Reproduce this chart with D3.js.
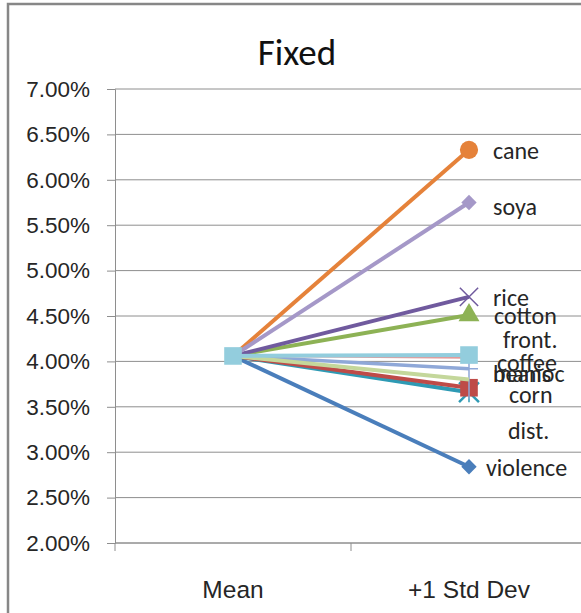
<!DOCTYPE html>
<html lang="en">
    <head>
        <meta charset="utf-8">
        <title>Fixed</title>
        <script src="https://d3js.org/d3.v7.min.js"></script>
        <style type="text/css">
            html, body {
                margin: 0;
                padding: 0;
                background-color: white;
            }
            svg {
                display: block;
                font-family: Calibri, Carlito, Lato, sans-serif;
                fill: #000;
            }
            .tick-label {
                font-size: 22.5px;
                fill: #262626;
            }
            .cat-label {
                font-size: 24.5px;
                fill: #262626;
            }
            .labels {
                font-size: 24px;
                fill: #262626;
            }
        </style>
    </head>
    <body>
        <script type="text/javascript">
            // data
            const categories = ["Mean", "+1 Std Dev"];
            const seriesNames = ["violence", "dist.", "corn", "cotton", "rice", "cane", "manioc", "front.", "beans", "soya", "coffee"];
            const meanValues = [4.06, 4.06, 4.06, 4.06, 4.06, 4.06, 4.06, 4.06, 4.06, 4.06, 4.06];
            const stdDevValues = [2.84, 3.66, 3.71, 4.51, 4.71, 6.33, 3.92, 4.04, 3.80, 5.75, 4.07];
            const labelValues = [2.83, 3.24, 3.63, 4.50, 4.70, 6.32, 3.87, 4.24, 3.87, 5.71, 3.99];
            const yTicks = [2, 2.5, 3, 3.5, 4, 4.5, 5, 5.5, 6, 6.5, 7];

            // styling per series
            const colors = ["#4A7EBB", "#2E9AB4", "#BE4B48", "#8DB255", "#705A9E", "#E5823A", "#8FA8D8", "#E49A98", "#C4D79B", "#A598C8", "#93CDDD"];
            const markers = ["diamond", "star", "square", "triangle", "x", "circle", "plus", "none", "none", "diamond", "square"];
            const lineWidths = [4, 4, 4, 4, 4, 4, 3.5, 2, 4, 4, 4];
            const labelDx = [17, 39, 40, 25, 24, 24, 24, 34, 24, 24, 28];

            const w = 581, h = 613;
            const svg = d3.select("body").append("svg")
                .attr("width", w)
                .attr("height", h);

            // outer frame (left + top edges visible)
            svg.append("path")
                .attr("d", "M8,613 V4 H581")
                .attr("fill", "none")
                .attr("stroke", "#878787")
                .attr("stroke-width", 2.5);

            const x = d3.scaleBand().domain(categories).range([115, 587]);
            const y = d3.scaleLinear().domain([2, 7]).range([543, 89]);
            const xc = c => x(c) + x.bandwidth() / 2;

            // gridlines
            svg.append("g").selectAll("line")
                .data(yTicks)
                .enter()
                .append("line")
                .attr("x1", 115).attr("x2", w)
                .attr("y1", d => y(d)).attr("y2", d => y(d))
                .attr("stroke", "#8e8e8e")
                .attr("stroke-width", 1);

            // y axis
            const yAxis = svg.append("g")
                .attr("transform", "translate(115,0)")
                .call(d3.axisLeft(y).tickValues(yTicks).tickSize(8).tickPadding(17)
                    .tickFormat(d => d.toFixed(2) + "%"));
            yAxis.select(".domain").attr("stroke", "#8e8e8e");
            yAxis.selectAll(".tick line").attr("stroke", "#8e8e8e");
            yAxis.selectAll(".tick text")
                .attr("class", "tick-label")
                .attr("font-family", null)
                .attr("font-size", null)
                .attr("fill", null);

            // x axis
            const xAxis = svg.append("g")
                .attr("transform", "translate(0," + y(2) + ")")
                .call(d3.axisBottom(x).tickSize(0).tickPadding(38));
            xAxis.select(".domain").attr("stroke", "#8e8e8e").attr("d", "M115,0H" + w);
            xAxis.selectAll(".tick text")
                .attr("class", "cat-label")
                .attr("font-family", null)
                .attr("font-size", null)
                .attr("fill", null);
            // category boundary ticks
            svg.append("g").selectAll("line")
                .data(categories)
                .enter()
                .append("line")
                .attr("x1", d => x(d)).attr("x2", d => x(d))
                .attr("y1", y(2)).attr("y2", y(2) + 8)
                .attr("stroke", "#8e8e8e");

            // build series
            const series = seriesNames.map((name, i) => ({
                name: name,
                values: [meanValues[i], stdDevValues[i]],
                color: colors[i],
                marker: markers[i],
                width: lineWidths[i],
                labelValue: labelValues[i],
                labelDx: labelDx[i]
            }));

            const line = d3.line()
                .x((d, i) => xc(categories[i]))
                .y(d => y(d));

            const markerPath = {
                diamond: d3.symbol().type(d3.symbolDiamond2).size(150),
                square: d3.symbol().type(d3.symbolSquare).size(310),
                triangle: d3.symbol().type(d3.symbolTriangle).size(190),
                circle: d3.symbol().type(d3.symbolCircle).size(260),
                star: d3.symbol().type(d3.symbolTimes).size(260),
                x: d3.symbol().type(d3.symbolTimes).size(220)
            };

            const groups = svg.selectAll("g.series")
                .data(series)
                .enter()
                .append("g")
                .attr("class", "series");

            groups.append("path")
                .attr("d", d => line(d.values))
                .attr("fill", "none")
                .attr("stroke", d => d.color)
                .attr("stroke-width", d => d.width);

            // markers; at the Mean all points coincide, only the top series (coffee) shows
            const last = series.length - 1;
            groups.each(function(s, si) {
                const g = d3.select(this);
                s.values.forEach((v, i) => {
                    if (i === 0 && si !== last) return;
                    const cx = xc(categories[i]), cy = y(v);
                    if (s.marker === "none") return;
                    if (s.marker === "plus") {
                        g.append("path")
                            .attr("d", "M" + (cx - 9) + "," + cy + "H" + (cx + 9) + "M" + cx + "," + (cy - 16) + "V" + (cy + 30))
                            .attr("stroke", s.color)
                            .attr("stroke-width", 1.5);
                        return;
                    }
                    const m = g.append("path")
                        .attr("transform", "translate(" + cx + "," + cy + ")")
                        .attr("d", markerPath[s.marker]());
                    if (s.marker === "x" || s.marker === "star") {
                        m.attr("fill", "none").attr("stroke", s.color).attr("stroke-width", s.marker === "x" ? 1.5 : 2.5);
                        if (s.marker === "star") {
                            g.append("path")
                                .attr("d", "M" + cx + "," + (cy - 10) + "V" + (cy + 10))
                                .attr("stroke", s.color).attr("stroke-width", 1.5);
                        }
                    } else {
                        m.attr("fill", s.color);
                    }
                });
            });

            // data labels
            svg.append("g").selectAll("text")
                .data(series)
                .enter()
                .append("text")
                .attr("class", "labels")
                .attr("x", d => xc(categories[1]) + d.labelDx)
                .attr("y", d => y(d.labelValue))
                .attr("dy", "0.35em")
                .text(d => d.name);

            // title
            svg.append("text")
                .attr("x", 297)
                .attr("y", 65)
                .attr("text-anchor", "middle")
                .attr("font-size", 37)
                .attr("fill", "#111")
                .text("Fixed");
        </script>
    </body>
</html>
